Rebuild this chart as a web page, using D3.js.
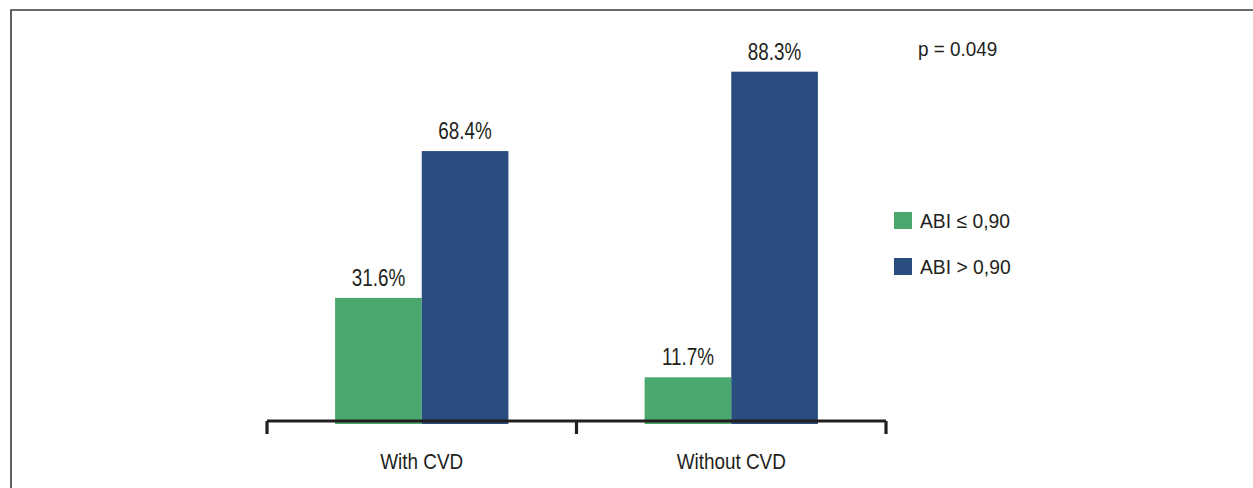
<!DOCTYPE html>
<html>
<head>
<meta charset="utf-8">
<script src="https://cdn.jsdelivr.net/npm/d3@7"></script>
<style>
  html, body { margin: 0; padding: 0; background: #fff; }
  svg { display: block; font-family: "Liberation Sans", Arial, sans-serif; }
</style>
</head>
<body>
<svg id="chart" width="1253" height="488"></svg>
<script>
// Data
const categories = ["With CVD", "Without CVD"];
const seriesNames = ["ABI \u2264 0,90", "ABI > 0,90"];
const abiLow = [31.6, 11.7];   // ABI <= 0,90 (%)
const abiHigh = [68.4, 88.3];  // ABI > 0,90 (%)
const pValueText = "p = 0.049";

const colors = ["#4aa86e", "#284d7e"];
const ink = "#231f20";

const svg = d3.select("#chart");

// Frame lines (left and top)
svg.append("path")
  .attr("d", "M11,488 V10 H1253")
  .attr("fill", "none")
  .attr("stroke", "#3a3a3a")
  .attr("stroke-width", 1.6);

const x = d3.scaleBand().domain(categories).range([267, 886]).padding(0);
const inset = 0.22 * x.bandwidth();
const xs = d3.scaleBand().domain(seriesNames).range([inset, x.bandwidth() - inset]).padding(0);
const y = d3.scaleLinear().domain([0, 100]).range([424, 25]);

const rows = categories.map((c, i) => ({
  cat: c,
  vals: [
    { s: seriesNames[0], v: abiLow[i], color: colors[0] },
    { s: seriesNames[1], v: abiHigh[i], color: colors[1] }
  ]
}));

const groups = svg.append("g").selectAll("g")
  .data(rows).join("g")
  .attr("transform", d => `translate(${x(d.cat)},0)`);

groups.selectAll("rect")
  .data(d => d.vals).join("rect")
  .attr("x", d => xs(d.s))
  .attr("width", xs.bandwidth())
  .attr("y", d => y(d.v))
  .attr("height", d => y(0) - y(d.v))
  .attr("fill", d => d.color);

// condensed text helper
function ctext(sel, tx, ty, txt, size, sx, anchor) {
  return sel.append("text")
    .attr("transform", `translate(${tx},${ty}) scale(${sx},1)`)
    .attr("text-anchor", anchor || "middle")
    .attr("font-size", size)
    .attr("fill", ink)
    .text(txt);
}

// value labels
rows.forEach(r => {
  r.vals.forEach(d => {
    ctext(svg, x(r.cat) + xs(d.s) + xs.bandwidth() / 2, y(d.v) - 12, d.v.toFixed(1) + "%", 23, 0.82);
  });
});

// axis line with boundary ticks
const axisY = 421;
const edges = categories.map(c => x(c)).concat([x.range()[1]]);
const axis = svg.append("g").attr("stroke", ink).attr("stroke-width", 3.2).attr("fill", "none");
axis.append("line").attr("x1", x.range()[0]).attr("x2", x.range()[1]).attr("y1", axisY).attr("y2", axisY);
axis.selectAll("line.tick").data(edges).join("line")
  .attr("class", "tick")
  .attr("x1", d => d).attr("x2", d => d)
  .attr("y1", axisY).attr("y2", axisY + 13);

// category labels
categories.forEach(c => {
  ctext(svg, x(c) + x.bandwidth() / 2, 469, c, 22, 0.86);
});

// legend
const legend = svg.append("g").attr("transform", "translate(894,212)");
seriesNames.forEach((s, i) => {
  const g = legend.append("g").attr("transform", `translate(0,${i * 46})`);
  g.append("rect").attr("width", 18).attr("height", 17).attr("fill", colors[i]);
  ctext(g, 26, 16, s, 21, 0.92, "start");
});

// p-value
ctext(svg, 918, 56, pValueText, 21, 0.9, "start");
</script>
</body>
</html>
